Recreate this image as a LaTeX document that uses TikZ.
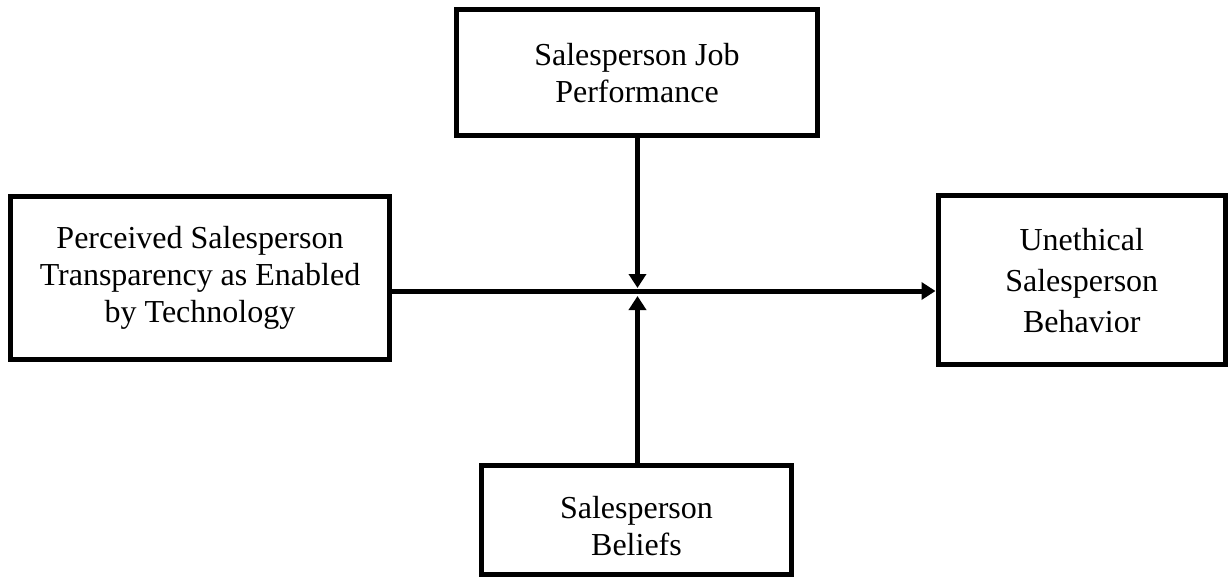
\documentclass[tikz,border=0pt]{standalone}
\usepackage{fontspec}
\setmainfont{Liberation Serif}
\usetikzlibrary{arrows.meta}

\begin{document}
\begin{tikzpicture}[x=1pt,y=-1pt,
  box/.style={draw=black, line width=5pt, fill=white, inner sep=0pt,
    align=center, font=\fontsize{32}{37}\selectfont},
  link/.style={line width=5pt, -{Triangle[length=14pt,width=17pt]}}]
  \useasboundingbox (0,0) rectangle (1230,577);

  % construct boxes
  \node[box, minimum width=361pt, minimum height=125.5pt] (perf) at (637,72.75)
    {Salesperson Job\\Performance};
  \node[box, minimum width=379pt, minimum height=163pt] (transp) at (200,278)
    {Perceived Salesperson\\Transparency as Enabled\\by Technology};
  \node[box, minimum width=287.5pt, minimum height=168.5pt,
    font=\fontsize{32}{41}\selectfont] (unethical) at (1081.75,280.25)
    {Unethical\\Salesperson\\Behavior};
  \node[box, minimum width=310pt, minimum height=109pt] (beliefs) at (636.5,520)
    {\rule{0pt}{34pt}Salesperson\\Beliefs};

  % end points of the moderating arrows on the main path
  \coordinate (downtip) at (637.5,288);
  \coordinate (uptip) at (637.5,296);

  % main effect
  \draw[link] (transp.east |- 0,291) -- (unethical.west |- 0,291);
  % moderators
  \draw[link] (perf.south -| downtip) -- (downtip);
  \draw[link] (beliefs.north -| uptip) -- (uptip);
\end{tikzpicture}
\end{document}
